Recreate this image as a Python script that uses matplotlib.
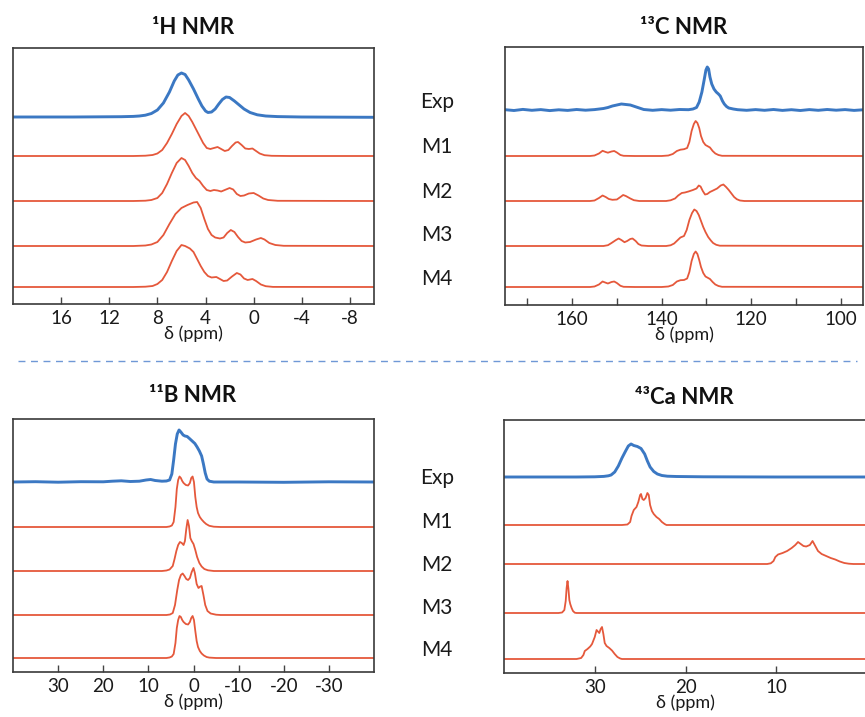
#!/usr/bin/env python
"""
plot.py
───────
Stacked 1H / 13C / 11B / 43Ca NMR spectra: experiment (blue) vs models M1-M4 (red).
Writes out.png (865x717 px).
"""

import numpy as np
import matplotlib
matplotlib.use("Agg")
import matplotlib.pyplot as plt
from matplotlib.lines import Line2D

plt.rcParams["font.family"] = ["Lato", "DejaVu Sans"]

W, H = 865, 717
BLUE = "#3b78c3"
RED = "#e5583b"
TRACE_LABELS = ["Exp", "M1", "M2", "M3", "M4"]

# ── 1H (ppm, intensity) ──────────────────────────────────────────────
H1_EXP_X = [20, 15, 11, 10, 9.5, 9, 8.5, 8, 7.5, 7, 6.6, 6.3, 6.0, 5.7, 5.4, 5.0, 4.6, 4.3,
            4.0, 3.8, 3.5, 3.2, 2.9, 2.6, 2.3, 2.0, 1.6, 1.2, 0.8, 0.3, -0.3, -1, -2, -4, -10]
H1_EXP_Y = [0, 0, 0.3, 0.6, 1, 1.8, 3.5, 7, 14, 25, 36, 42, 44, 42.5, 37, 28, 18, 11,
            6, 4.5, 5, 8, 13, 17.5, 20, 19.5, 16, 12, 8, 4.5, 2.2, 1, 0.4, 0, -0.3]
H1_M1_X = [20, 10, 9, 8.4, 8, 7.6, 7.2, 6.8, 6.4, 6.0, 5.7, 5.4, 5.1, 4.8, 4.5, 4.2, 3.9, 3.6,
           3.3, 3.0, 2.7, 2.4, 2.1, 1.8, 1.5, 1.3, 1.0, 0.7, 0.4, 0.1, -0.2, -0.5, -0.9, -1.5, -3, -10]
H1_M1_Y = [0, 0, 0.3, 1, 2.5, 6, 13, 22, 32, 40, 43, 40, 34, 27, 20, 13, 8, 7,
           8, 9, 7, 5, 6, 10, 13.5, 14, 11, 7.5, 7, 7.5, 5, 2.5, 0.8, 0.2, 0, 0]
H1_M2_X = [20, 10, 9, 8.5, 8, 7.6, 7.2, 6.8, 6.4, 6.0, 5.7, 5.4, 5.1, 4.8, 4.5, 4.2, 3.9, 3.6,
           3.3, 3.0, 2.7, 2.4, 2.0, 1.7, 1.4, 1.1, 0.8, 0.4, 0.0, -0.4, -0.8, -1.2, -2, -10]
H1_M2_Y = [0, 0, 0.3, 1, 3, 8, 17, 28, 38, 43, 41, 35, 28, 23, 20, 15, 11, 10,
           11, 10.5, 9.5, 11, 13, 11.5, 7, 5, 5.5, 7.5, 8, 5.5, 2.5, 1, 0.2, 0]
H1_M3_X = [20, 10, 9, 8.5, 8, 7.5, 7, 6.5, 6.0, 5.5, 5.0, 4.7, 4.4, 4.1, 3.8, 3.5, 3.2, 2.8,
           2.5, 2.2, 1.9, 1.6, 1.3, 1.0, 0.7, 0.3, -0.2, -0.6, -0.9, -1.3, -1.8, -2.5, -10]
H1_M3_Y = [0, 0, 0.5, 1.5, 4, 11, 22, 32, 38, 41, 43.5, 44, 38, 27, 17, 11, 8.5, 7.5,
           8.5, 13, 16, 14, 9, 5, 3.5, 4, 6.5, 8, 6.5, 3, 1, 0.2, 0]
H1_M4_X = [20, 10, 9, 8.4, 8, 7.6, 7.2, 6.8, 6.4, 6.0, 5.7, 5.3, 5.0, 4.7, 4.4, 4.1, 3.8, 3.5,
           3.1, 2.8, 2.5, 2.2, 1.8, 1.4, 1.1, 0.8, 0.5, 0.1, -0.2, -0.6, -1, -1.6, -10]
H1_M4_Y = [0, 0, 0.3, 1, 3, 7, 15, 26, 36, 42, 41, 38.5, 35, 28, 21, 15, 11, 9.5,
           10, 8, 6, 6.5, 10.5, 14, 12.5, 8.5, 7, 8, 6, 2.5, 0.8, 0.1, 0]

# ── 13C ───────────────────────────────────────────────────────────────
C13_EXP_X = [175, 173, 171, 169, 167, 165, 163, 161, 159, 157, 155, 153, 152, 151, 150, 149,
             148, 147, 146, 145, 144, 142, 140, 138, 136, 134, 133, 132.2, 131.6, 131, 130.5,
             130.1, 129.8, 129.5, 129.2, 128.8, 128.3, 127.8, 127.3, 126.9, 126.4, 126, 125.5,
             125, 124, 123, 121, 119, 117, 115, 113, 111, 109, 107, 105, 103, 101, 99, 97, 95]
C13_EXP_Y = [0.3, -0.5, 0.6, -0.3, 0.4, -0.6, 0.2, -0.4, 0.5, -0.2, 0.4, 1.5, 2.5, 4, 5, 6,
             5.5, 5, 3.5, 2, 0.5, -0.3, 0.4, -0.2, 0.5, 0.3, 1, 2.5, 8, 18, 30,
             40, 43, 41, 33, 26, 21, 18, 16, 14, 9, 6, 3.5,
             2, 1, 0.3, -0.3, 0.4, -0.3, 0.5, -0.4, 0.3, -0.5, 0.4, -0.3, 0.5, -0.2, 0.4, -0.4, 0.2]
C13_M1_X = [175, 156, 155, 154, 153.2, 152.5, 152, 151.2, 150.6, 150, 149.2, 148.5, 146, 140,
            138.5, 137.5, 136.6, 135.8, 135, 134.3, 133.8, 133.3, 132.8, 132.4, 132, 131.6,
            131.2, 130.7, 130.2, 129.6, 129.2, 128.6, 128, 127.3, 126.5, 95]
C13_M1_Y = [0, 0, 0.5, 2.5, 5.2, 4, 3.3, 4.5, 5, 3.5, 1, 0.2, 0, 0,
            0.5, 2, 5, 6.3, 6.8, 8, 14, 25, 32, 35, 33, 28,
            20, 14, 11, 9.5, 8.5, 5, 2.5, 1, 0.2, 0]
C13_M2_X = [175, 156, 155, 154, 153.2, 152.5, 151.8, 151, 150, 149.2, 148.6, 148, 147, 146.2,
            145, 139, 138, 137, 136.3, 135.5, 134.8, 134, 133, 132.2, 131.7, 131.3, 130.8,
            130.3, 129.8, 129.2, 128.5, 127.6, 126.8, 126.2, 125.6, 125, 124.4, 123.8, 123.2,
            122.5, 121.5, 95]
C13_M2_Y = [0, 0, 0.5, 3, 5.5, 4, 2, 1.2, 1.5, 4, 6, 5, 2.5, 0.8,
            0, 0, 0.7, 2.5, 5.5, 8, 8.5, 9.5, 11, 12.5, 15.5, 14.5, 10,
            6.5, 7, 9, 10.5, 12.5, 15.5, 16.5, 14, 11, 7.5, 4, 1.8,
            0.5, 0, 0]
C13_M3_X = [175, 153, 152, 151.2, 150.2, 149.6, 149, 148.3, 147.7, 147, 146.5, 145.8, 145.2,
            144.5, 143, 139, 138, 137.2, 136.5, 135.8, 135, 134.4, 133.8, 133.2, 132.7, 132.2,
            131.7, 131.2, 130.7, 130.2, 129.6, 129, 128.5, 127.8, 127, 95]
C13_M3_Y = [0, 0, 0.8, 3, 6, 7.5, 6, 3.8, 5, 7, 7.5, 5, 2,
            0.5, 0, 0, 0.7, 2.5, 5.5, 8.5, 10, 16, 26, 33, 36.5, 35,
            31, 25, 19, 14, 9, 5.5, 3, 1.2, 0.3, 0]
C13_M4_X = [175, 156, 155, 154, 153.2, 152.5, 152, 151.2, 150.6, 150, 149.2, 148.5, 146, 140,
            138.5, 137.5, 136.6, 135.8, 135, 134.3, 133.8, 133.3, 132.8, 132.4, 132, 131.6,
            131.2, 130.7, 130.2, 129.6, 129.2, 128.6, 128, 127.3, 126.5, 95]
C13_M4_Y = [0, 0, 0.5, 2.5, 5.5, 4.3, 3.5, 5, 5.5, 4, 1.2, 0.2, 0, 0,
            0.5, 2, 5.5, 6.8, 7, 8.5, 15, 26, 33, 35.5, 33, 27,
            20, 14, 10.5, 9, 8, 5, 2.5, 1, 0.2, 0]

# ── 11B ───────────────────────────────────────────────────────────────
B11_EXP_X = [40, 35, 30, 25, 20, 18, 16, 14, 12, 10.5, 9.5, 8.5, 7, 6, 5.3, 4.8, 4.4, 4.0,
             3.6, 3.2, 2.8, 2.3, 1.9, 1.4, 0.9, 0.3, -0.3, -0.8, -1.3, -1.8, -2.2, -2.6,
             -3.0, -3.5, -4.5, -10, -20, -30, -40]
B11_EXP_Y = [0, 0.3, -0.2, 0.3, 0.2, 0.8, 1.2, 0.5, 0.8, 2, 2.5, 1.5, 0.8, 1, 2, 8, 22, 38,
             48, 52, 50, 47, 46, 45.5, 43.5, 41, 38.5, 35, 31, 26, 18, 9,
             3, 0.8, 0, 0, -0.3, 0.2, 0]
B11_M1_X = [40, 6, 5.3, 4.8, 4.4, 4.0, 3.7, 3.4, 3.1, 2.8, 2.5, 2.2, 1.7, 1.2, 0.8, 0.5, 0.2,
            -0.1, -0.4, -0.7, -1.0, -1.4, -1.8, -2.3, -2.8, -3.5, -4.5, -6, -40]
B11_M1_Y = [0, 0, 0.5, 1.5, 5, 20, 38, 47, 50.5, 49, 46, 44, 42, 41.5, 44, 49, 50.5,
            45, 30, 20, 14, 10, 7.5, 5, 3, 1.2, 0.3, 0, 0]
B11_M2_X = [40, 7, 6, 5.3, 4.6, 4.2, 3.8, 3.4, 3.0, 2.6, 2.2, 1.9, 1.6, 1.3, 1.0, 0.7, 0.4,
            0.0, -0.4, -0.8, -1.3, -1.8, -2.4, -3.2, -4.5, -40]
B11_M2_Y = [0, 0, 0.5, 1.5, 5, 12, 20, 26, 29, 28, 26, 30, 42, 51, 45, 33, 30,
            27, 21, 14, 8, 4.5, 2, 0.7, 0, 0]
B11_M3_X = [40, 6, 5.2, 4.6, 4.1, 3.6, 3.2, 2.8, 2.4, 2.0, 1.6, 1.2, 0.8, 0.4, 0.0, -0.3,
            -0.7, -1.1, -1.5, -1.8, -2.2, -2.6, -3.1, -3.8, -5, -6, -40]
B11_M3_Y = [0, 0, 0.5, 2, 10, 25, 35, 40, 41.5, 39, 36, 35, 37, 43, 47, 42,
            31, 27, 28.5, 29, 20, 10, 4, 1.5, 0.3, 0, 0]
B11_M4_X = [40, 6, 5.3, 4.8, 4.4, 4.0, 3.7, 3.4, 3.1, 2.8, 2.5, 2.2, 1.7, 1.2, 0.8, 0.5, 0.2,
            -0.1, -0.4, -0.7, -1.0, -1.4, -1.8, -2.3, -2.9, -3.5, -5, -40]
B11_M4_Y = [0, 0, 0.5, 1.5, 4, 15, 30, 38, 42, 41, 38, 36, 34, 33.5, 36, 40, 42,
            38, 27, 17, 11, 7, 4.5, 2.5, 1, 0.4, 0, 0]

# ── 43Ca ──────────────────────────────────────────────────────────────
CA43_EXP_X = [40, 32, 30, 29, 28.5, 28.2, 27.8, 27.4, 27, 26.6, 26.3, 26.0, 25.7, 25.3, 24.9,
              24.5, 24.2, 23.9, 23.5, 23.1, 22.6, 22, 21, 18, 10, 0]
CA43_EXP_Y = [0, 0, 0.2, 0.6, 1.2, 2, 5, 11, 19, 26, 31, 33, 31.5, 30.5, 28.5,
              23, 16, 10, 5.5, 3, 1.5, 0.8, 0.5, 0.2, 0, 0]
CA43_M1_X = [40, 27, 26.4, 26.1, 25.95, 25.7, 25.4, 25.2, 25.0, 24.9, 24.75, 24.6, 24.4, 24.2,
             24.05, 23.9, 23.7, 23.5, 23.2, 22.9, 22.6, 22.3, 22.1, 0]
CA43_M1_Y = [0, 0, 0.5, 3, 9, 15, 18, 23, 30, 31, 26, 25, 27, 32,
             30, 20, 14, 11, 8, 6, 3, 1, 0, 0]
CA43_M2_X = [40, 11, 10.6, 10.3, 10.1, 9.8, 9.3, 8.8, 8.3, 7.9, 7.6, 7.3, 7.0, 6.7, 6.3, 6.0,
             5.7, 5.4, 5.0, 4.5, 4.0, 3.5, 3.0, 2.5, 2.0, 1.5, 0]
CA43_M2_Y = [0, 0, 0.7, 3, 7, 9.5, 11, 13, 16, 19, 22, 20, 18, 17.5, 19, 23,
             18, 13, 10, 8, 6, 4.5, 2.5, 1, 0.3, 0, 0]
CA43_M3_X = [40, 34, 33.6, 33.35, 33.2, 33.1, 33.0, 32.9, 32.8, 32.7, 32.55, 32.4, 32.2, 32, 0]
CA43_M3_Y = [0, 0, 0.5, 3, 12, 25, 32, 24, 13, 9, 5, 2, 0.3, 0, 0]
CA43_M4_X = [40, 32, 31.5, 31.25, 31.1, 30.8, 30.5, 30.3, 30.0, 29.8, 29.65, 29.5, 29.35, 29.2,
             29.05, 28.9, 28.7, 28.4, 28.1, 27.8, 27.5, 27.2, 27, 0]
CA43_M4_Y = [0, 0, 1, 4, 8, 10, 12.5, 15, 22, 29, 27.5, 26, 30, 32,
             25, 16, 13, 11, 8.5, 5, 2, 0.5, 0, 0]


def px_rect(x0, y0, x1, y1):
    """pixel box (top-left origin) -> figure fraction rect"""
    return [x0 / W, 1 - y1 / H, (x1 - x0) / W, (y1 - y0) / H]


def draw_panel(fig, box, xlim, ticks, labeled, traces, offsets):
    ax = fig.add_axes(px_rect(*box))
    height = box[3] - box[1]
    for i, (x, y) in enumerate(traces):
        color, lw = (BLUE, 2.1) if i == 0 else (RED, 1.3)
        ax.plot(x, np.asarray(y) + offsets[i], color=color, lw=lw,
                solid_joinstyle="round")
    ax.set_xlim(*xlim)
    ax.set_ylim(0, height)
    ax.set_yticks([])
    ax.set_xticks(ticks, minor=True)
    ax.set_xticks(labeled)
    ax.set_xticklabels([f"{t:g}" for t in labeled], fontsize=13.5, color="#1a1a1a")
    ax.tick_params(axis="x", which="both", direction="in", length=5, width=1,
                   color="#444444", pad=4)
    ax.set_xlabel("δ (ppm)", fontsize=13, labelpad=-1, color="#1a1a1a")
    for s in ax.spines.values():
        s.set_color("#3a3a3a")
        s.set_linewidth(1.2)
    return ax


def main():
    fig = plt.figure(figsize=(W / 100, H / 100), dpi=100)

    draw_panel(fig, (13, 48, 374, 304), (20, -10),
               [16, 12, 8, 4, 0, -4, -8], [16, 12, 8, 4, 0, -4, -8],
               [(H1_EXP_X, H1_EXP_Y), (H1_M1_X, H1_M1_Y), (H1_M2_X, H1_M2_Y),
                (H1_M3_X, H1_M3_Y), (H1_M4_X, H1_M4_Y)],
               [187, 148, 103, 58, 17])
    draw_panel(fig, (505, 47, 863, 305), (175, 95),
               [170, 150, 130, 110], [160, 140, 120, 100],
               [(C13_EXP_X, C13_EXP_Y), (C13_M1_X, C13_M1_Y), (C13_M2_X, C13_M2_Y),
                (C13_M3_X, C13_M3_Y), (C13_M4_X, C13_M4_Y)],
               [195, 149, 104, 59, 18])
    draw_panel(fig, (13, 419, 374, 672), (40, -40),
               [30, 20, 10, 0, -10, -20, -30], [30, 20, 10, 0, -10, -20, -30],
               [(B11_EXP_X, B11_EXP_Y), (B11_M1_X, B11_M1_Y), (B11_M2_X, B11_M2_Y),
                (B11_M3_X, B11_M3_Y), (B11_M4_X, B11_M4_Y)],
               [190, 145, 101, 57, 14])
    draw_panel(fig, (504, 420, 867, 673), (40, 0),
               [30, 20, 10], [30, 20, 10],
               [(CA43_EXP_X, CA43_EXP_Y), (CA43_M1_X, CA43_M1_Y), (CA43_M2_X, CA43_M2_Y),
                (CA43_M3_X, CA43_M3_Y), (CA43_M4_X, CA43_M4_Y)],
               [196, 148, 109, 60, 14])

    # panel titles
    for txt, (x, y) in [("¹H NMR", (193, 28)), ("¹³C NMR", (684, 28)),
                        ("¹¹B NMR", (193, 396)), ("⁴³Ca NMR", (684, 398))]:
        fig.text(x / W, 1 - y / H, txt, ha="center", va="center",
                 fontsize=16, fontweight="bold", color="#111111")

    # trace labels between the panels
    for ys in ([102, 147, 192, 235, 279], [478, 522, 565, 608, 650]):
        for lab, y in zip(TRACE_LABELS, ys):
            fig.text(437 / W, 1 - y / H, lab, ha="center", va="center",
                     fontsize=15, color="#1a1a1a")

    # dashed separator
    fig.add_artist(Line2D([18 / W, 857 / W], [1 - 361 / H] * 2, color="#6f98d6",
                          lw=1.0, ls=(0, (5, 4))))

    fig.savefig("out.png", dpi=100)
    plt.close(fig)


if __name__ == "__main__":
    main()
